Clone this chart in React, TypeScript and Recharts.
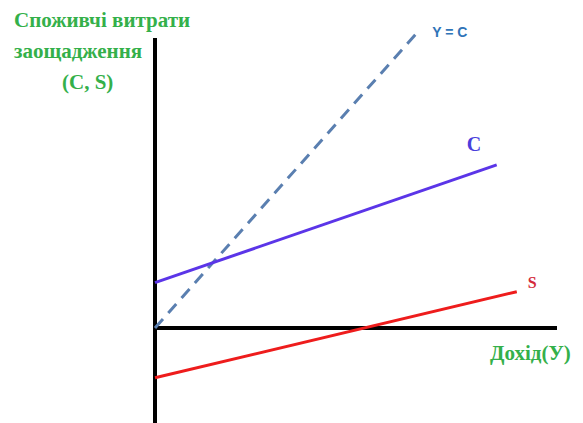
import { LineChart, Line, XAxis, YAxis, ReferenceLine, LabelList } from 'recharts';

// income (x) and spending/saving (y) in chart units
const guideLine = [
  { x: 0, y: 0 },
  { x: 66, y: 66 },
];
const consumption = [
  { x: 0, y: 10 },
  { x: 85, y: 36 },
];
const saving = [
  { x: 0, y: -11 },
  { x: 90, y: 8 },
];
const seriesNames = ['Y = C', 'C', 'S'];
const xDomain = [0, 100];
const yDomain = [-21, 68];

const GREEN = '#34b04a';

function endLabel(text: string, lastIndex: number, dx: number, dy: number, style: React.CSSProperties) {
  return (props: any) => {
    if (props.index !== lastIndex) return null;
    return (
      <text x={props.x + dx} y={props.y + dy} style={style}>
        {text}
      </text>
    );
  };
}

export default function App() {
  return (
    <div style={{ position: 'absolute', left: 0, top: 0, width: 583, height: 423, background: '#fff' }}>
      <LineChart width={583} height={423} margin={{ top: 20, right: 26, bottom: 0, left: 155 }}>
        <XAxis type="number" dataKey="x" domain={xDomain} hide />
        <YAxis type="number" dataKey="y" domain={yDomain} hide />
        <ReferenceLine
          segment={[{ x: 0, y: yDomain[0] }, { x: 0, y: 64 }]}
          stroke="#000"
          strokeWidth={4}
        />
        <ReferenceLine
          segment={[{ x: 0, y: 0 }, { x: xDomain[1], y: 0 }]}
          stroke="#000"
          strokeWidth={4}
        />
        <Line
          data={guideLine}
          dataKey="y"
          stroke="#5a7fb0"
          strokeWidth={3}
          strokeDasharray="12 8"
          dot={false}
          isAnimationActive={false}
        >
          <LabelList
            content={endLabel(seriesNames[0], guideLine.length - 1, 12, 8, {
              fill: '#2f74b8',
              fontFamily: 'Liberation Sans',
              fontWeight: 'bold',
              fontSize: 14,
            })}
          />
        </Line>
        <Line
          data={consumption}
          dataKey="y"
          stroke="#5b35e8"
          strokeWidth={3}
          dot={false}
          isAnimationActive={false}
        >
          <LabelList
            content={endLabel(seriesNames[1], consumption.length - 1, -30, -14, {
              fill: '#4b3fdc',
              fontFamily: 'Liberation Serif',
              fontWeight: 'bold',
              fontSize: 20,
            })}
          />
        </Line>
        <Line
          data={saving}
          dataKey="y"
          stroke="#ee1c1c"
          strokeWidth={3}
          dot={false}
          isAnimationActive={false}
        >
          <LabelList
            content={endLabel(seriesNames[2], saving.length - 1, 11, -4, {
              fill: '#d42a3a',
              fontFamily: 'Liberation Serif',
              fontWeight: 'bold',
              fontSize: 16,
            })}
          />
        </Line>
      </LineChart>
      <div
        style={{
          position: 'absolute',
          left: 14,
          top: 5,
          color: GREEN,
          fontFamily: 'Liberation Serif',
          fontWeight: 'bold',
          fontSize: 21,
          lineHeight: '31px',
        }}
      >
        <div>Споживчі витрати</div>
        <div>заощадження</div>
        <div style={{ paddingLeft: 48 }}>(C, S)</div>
      </div>
      <div
        style={{
          position: 'absolute',
          left: 490,
          top: 341,
          color: GREEN,
          fontFamily: 'Liberation Serif',
          fontWeight: 'bold',
          fontSize: 21,
        }}
      >
        Дохід(У)
      </div>
    </div>
  );
}
